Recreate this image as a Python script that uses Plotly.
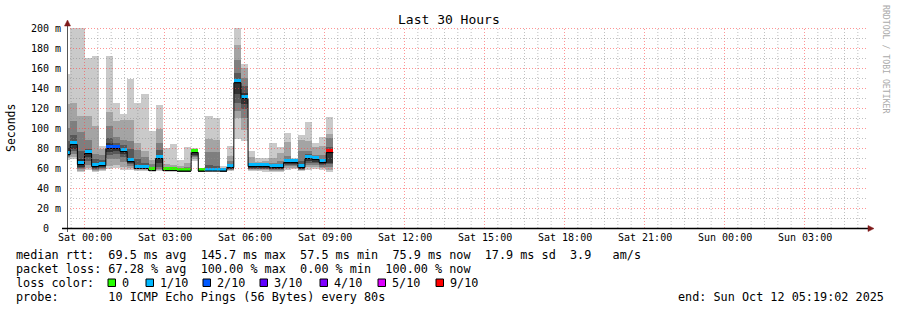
import numpy as np
import pandas as pd
import plotly.graph_objects as go

# ---------------- data (16-minute consolidated slots) ----------------
slot_start = pd.date_range("2025-10-10 23:12:00", periods=38, freq="16min")

median_ms = [74, 84, 64, 75, 62, 63, 80, 80, 77, 67,
             60, 60, 58, 70, 58, 58, 57.5, 57.5, 76, 57.5,
             57.5, 57.5, 57.5, 61, 145.7, 130, 62, 62, 62, 61,
             61, 66, 66, 61, 70, 69, 66, 75.9]
loss_tenths = [1, 1, 1, 1, 1, 1, 2, 2, 1, 1,
               1, 1, 0, 1, 0, 0, 0, 0, 0, 0,
               1, 1, 1, 1, 1, 1, 1, 1, 1, 1,
               1, 1, 1, 1, 1, 1, 1, 9]

# smoke bands: outermost (1) to innermost (5), low / high edges in ms
smoke1_lo = [69, 70, 57, 59, 57, 58, 60, 61, 59, 59, 58, 58, 57, 58, 57, 57, 57, 57, 68, 57,
             57, 57, 57, 58, 90, 88, 58, 58, 57, 57, 57, 59, 60, 58, 59, 60, 59, 57]
smoke1_hi = [155, 230, 230, 171, 173, 83, 173, 126, 115, 150, 126, 135, 98, 124, 81, 85, 69, 82, 81, 58.5,
             113, 111, 63, 83, 230, 165, 78, 71, 71, 86, 82, 96, 71, 94, 107, 86, 92, 112]
smoke2_lo = [71, 72, 58, 61, 58, 59, 63, 64, 62, 61, 59, 59, 58, 59, 58, 58, 57, 57, 70, 57,
             57, 57, 57, 59, 111, 99, 59, 59, 59, 58, 58, 61, 61, 59, 62, 62, 61, 59]
smoke2_hi = [125, 126, 113, 113, 103, 80, 117, 108, 109, 109, 86, 78, 69, 100, 65, 64, 63, 66, 79, 58.3,
             90, 89, 61, 73, 184, 161, 72, 67, 68, 71, 76, 87, 70, 89, 88, 82, 83, 95]
smoke3_lo = [72, 75, 60, 64, 59, 60, 70, 70, 67, 63, 60, 60, 58, 60, 58, 58, 57, 57, 72, 57,
             58, 58, 57, 59, 118, 111, 60, 60, 60, 59, 59, 63, 63, 59, 64, 64, 62, 62]
smoke3_hi = [101, 108, 97, 89, 75, 74, 103, 92, 89, 88, 79, 72, 65, 86, 62, 62, 61, 62, 78, 58.2,
             77, 77, 60, 68, 169, 151, 66, 65, 66, 66, 68, 73, 69, 78, 78, 74, 74, 91]
smoke4_lo = [73, 78, 61, 68, 60, 61, 74, 75, 72, 65, 60, 60, 58, 62, 58, 58, 57, 57, 73, 57,
             58, 58, 57, 60, 126, 120, 60, 60, 60, 60, 60, 64, 64, 60, 66, 66, 64, 65]
smoke4_hi = [88, 94, 78, 80, 70, 69, 91, 86, 84, 80, 70, 66, 62, 79, 60, 60, 59, 60, 77, 58.1,
             64, 63, 59, 64, 156, 143, 64, 64, 64, 64, 64, 70, 68, 68, 75, 72, 70, 82]
smoke5_lo = [74, 80, 62, 72, 61, 62, 77, 78, 75, 66, 61, 61, 58, 66, 58, 58, 57, 57, 74, 57,
             58, 58, 57, 60, 135, 125, 61, 61, 61, 60, 60, 65, 65, 60, 68, 67, 65, 66]
smoke5_hi = [81, 88, 70, 78, 65, 66, 86, 83, 81, 71, 64, 63, 60, 74, 59, 59, 58.5, 58.5, 76.5, 58,
             60, 60, 58.5, 62, 150, 136, 63, 63, 63, 62, 62, 68, 67, 63, 73, 71, 68, 78]

y_tick_values = [0, 20, 40, 60, 80, 100, 120, 140, 160, 180, 200]
y_tick_labels = ["0  ", "20 m", "40 m", "60 m", "80 m", "100 m", "120 m", "140 m", "160 m", "180 m", "200 m"]

loss_levels = [0, 1, 2, 3, 4, 5, 9]
loss_labels = ["0", "1/10", "2/10", "3/10", "4/10", "5/10", "9/10"]
loss_colors = ["#26ff00", "#00b8ff", "#0059ff", "#5e00ff", "#7e00ff", "#dd00ff", "#ff0000"]

legend_rows = [
    "median rtt:  69.5 ms avg  145.7 ms max  57.5 ms min  75.9 ms now  17.9 ms sd  3.9   am/s",
    "packet loss: 67.28 % avg  100.00 % max  0.00 % min  100.00 % now",
    "loss color:",
    "probe:       10 ICMP Echo Pings (56 Bytes) every 80s",
]
end_label = "end: Sun Oct 12 05:19:02 2025"
title_text = "Last 30 Hours"

# 30-hour window (pixel-aligned so the 3-hour grid falls on whole pixels)
RANGE_START = "2025-10-10 23:20:37.5"
RANGE_END = "2025-10-12 05:20:37.5"

# ---------------- styling ----------------
MONO = "DejaVu Sans Mono"
SMOKE_COLORS = ["#cacaca", "#a4a4a4", "#7e7e7e", "#585858", "#323232"]
GRID_MINOR = "rgba(140,140,140,0.55)"
GRID_MAJOR = "rgba(255,60,60,0.55)"
ARROW = "#7f1a1a"
L, T, W, H = 67, 28, 800, 200


def px(x):
    return (x - L) / W


def py(y):
    return (T + H - y) / H


def nb(s):
    return s.replace(" ", "\u00a0")


fig = go.Figure()
slot = pd.Timedelta(minutes=16)
centers = slot_start + slot / 2
width_ms = slot.total_seconds() * 1000

bands = [(smoke1_lo, smoke1_hi), (smoke2_lo, smoke2_hi), (smoke3_lo, smoke3_hi),
         (smoke4_lo, smoke4_hi), (smoke5_lo, smoke5_hi)]
for (lo, hi), col in zip(bands, SMOKE_COLORS):
    lo = np.array(lo, dtype=float)
    hi = np.array(hi, dtype=float)
    fig.add_trace(go.Bar(x=centers, base=lo, y=hi - lo, width=width_ms,
                         marker=dict(color=col, line=dict(width=0)), hoverinfo="skip"))

# median step line
step_x = list(slot_start) + [slot_start[-1] + slot]
step_y = list(median_ms) + [median_ms[-1]]
fig.add_trace(go.Scatter(x=step_x, y=step_y, mode="lines",
                         line=dict(color="#000000", width=1, shape="hv"), hoverinfo="skip"))

# loss-coloured median marks
cmap = dict(zip(loss_levels, loss_colors))
med = np.array(median_ms, dtype=float)
fig.add_trace(go.Bar(x=centers, base=med + 0.5, y=np.full(len(med), 3.0), width=width_ms,
                     marker=dict(color=[cmap[l] for l in loss_tenths], line=dict(width=0)),
                     hoverinfo="skip"))

shapes = []
# grid on top of the data (rrdtool style)
for t in pd.date_range("2025-10-10 23:30", "2025-10-12 05:00", freq="30min"):
    major = (t.minute == 0 and t.hour % 3 == 0)
    ts = t.strftime("%Y-%m-%d %H:%M:%S")
    shapes.append(dict(type="line", xref="x", yref="paper", x0=ts, x1=ts, y0=0, y1=1,
                       line=dict(color=GRID_MAJOR if major else GRID_MINOR, width=1, dash="1px,2px"),
                       layer="above"))
for v in range(10, 201, 10):
    major = v % 20 == 0
    shapes.append(dict(type="line", xref="paper", yref="y", x0=0, x1=1, y0=v, y1=v,
                       line=dict(color=GRID_MAJOR if major else GRID_MINOR, width=1, dash="1px,2px"),
                       layer="above"))
# axes
shapes.append(dict(type="line", xref="paper", yref="paper", x0=px(67.5), x1=px(67.5), y0=py(232), y1=py(24),
                   line=dict(color="#555555", width=1), layer="above"))
shapes.append(dict(type="line", xref="paper", yref="paper", x0=px(62), x1=px(870), y0=py(228.5), y1=py(228.5),
                   line=dict(color="#000000", width=1.5), layer="above"))
# arrows
shapes.append(dict(type="path", xref="paper", yref="paper",
                   path=f"M {px(64.5)},{py(26)} L {px(70.5)},{py(26)} L {px(67.5)},{py(20)} Z",
                   fillcolor=ARROW, line=dict(color=ARROW, width=0.5), layer="above"))
shapes.append(dict(type="path", xref="paper", yref="paper",
                   path=f"M {px(868)},{py(225.5)} L {px(868)},{py(231.5)} L {px(874)},{py(228.5)} Z",
                   fillcolor=ARROW, line=dict(color=ARROW, width=0.5), layer="above"))

annotations = []


def label(text, x, y, size, xanchor="left", color="black", angle=0, xref="paper"):
    annotations.append(dict(text=nb(text), xref=xref, yref="paper",
                            x=(px(x) if xref == "paper" else x), y=py(y),
                            showarrow=False, xanchor=xanchor, yanchor="middle",
                            font=dict(family=MONO, size=size, color=color),
                            borderpad=0, borderwidth=0, textangle=angle))


# y tick labels
for v, t in zip(y_tick_values, y_tick_labels):
    label(t, 61, T + H - v, 10, xanchor="right")
# x tick labels
for t in pd.date_range("2025-10-11 00:00", "2025-10-12 03:00", freq="3h"):
    label(t.strftime("%a %H:%M"), t.strftime("%Y-%m-%d %H:%M:%S"), 237.5, 10,
          xanchor="center", xref="x")

label(title_text, 448.5, 19.5, 13, xanchor="center")
label("Seconds", 11, 128, 11.5, xanchor="center", angle=-90)
label("RRDTOOL / TOBI OETIKER", 886, 59, 8.2, xanchor="center", color="#aaaaaa", angle=90)

row_y = [254.5, 268.5, 282.5, 296.7]
for txt, yy in zip(legend_rows, row_y):
    label(txt, 15.5, yy, 11.8)
label(end_label, 677.5, row_y[3], 11.8)

box_x = [108, 146, 203, 260, 320, 378, 436]
for bx, lab, col in zip(box_x, loss_labels, loss_colors):
    shapes.append(dict(type="rect", xref="paper", yref="paper",
                       x0=px(bx), x1=px(bx + 7.5), y0=py(row_y[2] + 4), y1=py(row_y[2] - 3.5),
                       fillcolor=col, line=dict(color="black", width=1), layer="above"))
    label(lab, bx + 13.5, row_y[2], 11.8)

fig.update_layout(
    width=897, height=310, autosize=False,
    margin=dict(l=L, r=897 - L - W, t=T, b=310 - T - H, pad=0),
    paper_bgcolor="white", plot_bgcolor="white",
    barmode="overlay", bargap=0, showlegend=False,
    xaxis=dict(type="date", range=[RANGE_START, RANGE_END], showgrid=False, zeroline=False,
               showticklabels=False, ticks="", showline=False, fixedrange=True),
    yaxis=dict(range=[0.5, 200.5], showgrid=False, zeroline=False, showticklabels=False,
               ticks="", showline=False, fixedrange=True),
    font=dict(family=MONO, size=11.8, color="black"),
    shapes=shapes, annotations=annotations,
)

fig.write_html("out.html")
